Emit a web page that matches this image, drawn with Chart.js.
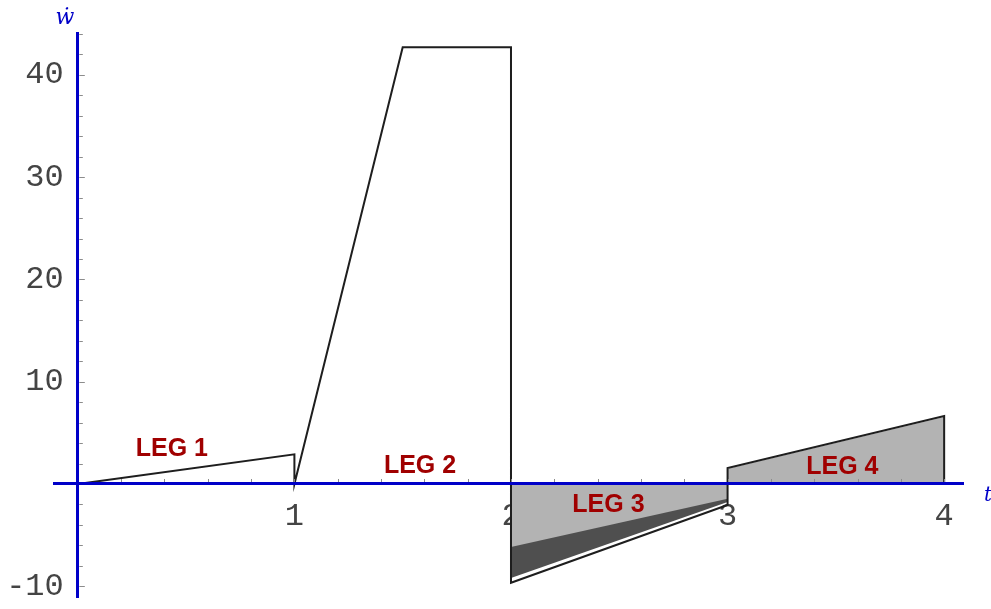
<!DOCTYPE html>
<html>
<head>
<meta charset="utf-8">
<title>ẇ(t) over four legs</title>
<script src="https://cdn.jsdelivr.net/npm/chart.js@4/dist/chart.umd.min.js"></script>
<style>
  html, body { margin: 0; padding: 0; background: #ffffff; }
  #wrap { position: relative; width: 991px; height: 609px; }
</style>
</head>
<body>
<div id="wrap"><canvas id="chart"></canvas></div>
<script>
// Rate curve ẇ(t): polyline through the breakpoints of the four legs
const curveT = [0, 1, 1, 1.5, 2, 2, 3, 3, 4, 4];
const curveW = [0, 2.9, 0, 42.7, 42.7, -9.66, -2.05, 1.57, 6.65, 0];

// Leg 3 shaded region (light part down to the inner edge, dark wedge above that edge)
const leg3T = [2, 3];
const leg3InnerW = [-9.2, -1.75];
const leg3DarkW = [-6.15, -1.45];

// Leg 4 shaded region
const leg4T = [3, 4];
const leg4W = [1.5, 6.55];

// Tick labels
const xTickLabels = [1, 2, 3, 4];
const yTickLabels = [-10, 10, 20, 30, 40];

// Leg names
const legNames = ['LEG 1', 'LEG 2', 'LEG 3', 'LEG 4'];

const pts = (xs, ys) => xs.map((x, i) => ({ x: x, y: ys[i] }));
const near = (a, b) => Math.abs(a - b) < 1e-6;

// Where each leg name sits, in (t, ẇ) units
const legPlacement = [
  { t: 0.434, w: 3.42 },
  { t: 1.58, w: 1.76 },
  { t: 2.45, w: -2.05 },
  { t: 3.53, w: 1.66 }
];

const BLUE = '#0000c8';
const MONO = '"Liberation Mono", "DejaVu Sans Mono", monospace';
const LABEL_GREY = '#444444';
const W_MIN = -11.05, W_MAX = 44.1;

// Axes cross at the origin, so scale boxes must not eat into the plot area
const noPadding = scale => {
  scale.paddingLeft = 0; scale.paddingRight = 0;
  scale.paddingTop = 0; scale.paddingBottom = 0;
};

// Short tick marks on the inner side of both axes
const axisMarks = {
  id: 'axisMarks',
  afterDatasetsDraw(chart) {
    const { ctx, scales: { x, y } } = chart;
    const x0 = x.getPixelForValue(0);
    const y0 = y.getPixelForValue(0);
    ctx.save();
    ctx.strokeStyle = '#8c8c8c';
    ctx.lineWidth = 1;
    ctx.beginPath();
    x.ticks.forEach(tk => {
      const v = tk.value;
      if (near(v, 0)) return;
      const px = Math.round(x.getPixelForValue(v)) + 0.5;
      ctx.moveTo(px, y0 - 1.5);
      ctx.lineTo(px, y0 - 5);
    });
    y.ticks.forEach(tk => {
      const v = tk.value;
      if (near(v, 0)) return;
      const py = Math.round(y.getPixelForValue(v)) + 0.5;
      const len = near(v % 10, 0) ? 7 : 5;
      ctx.moveTo(x0 + 1.5, py);
      ctx.lineTo(x0 + len, py);
    });
    ctx.stroke();
    ctx.restore();
  }
};

// Leg names and axis symbols
const textLayer = {
  id: 'textLayer',
  afterDatasetsDraw(chart) {
    const { ctx, scales: { x, y } } = chart;
    ctx.save();
    ctx.font = 'bold 25px "Liberation Sans", Arial, sans-serif';
    ctx.fillStyle = '#a00000';
    ctx.textAlign = 'center';
    ctx.textBaseline = 'middle';
    legNames.forEach((name, i) => {
      const p = legPlacement[i];
      ctx.fillText(name, x.getPixelForValue(p.t), y.getPixelForValue(p.w));
    });
    ctx.fillStyle = BLUE;
    ctx.font = 'italic 22px "DejaVu Serif", "Liberation Serif", serif';
    ctx.textAlign = 'center';
    ctx.textBaseline = 'alphabetic';
    ctx.fillText('ẇ', x.getPixelForValue(0) - 13, y.top - 9);
    ctx.textAlign = 'left';
    ctx.font = 'italic 20px "DejaVu Serif", "Liberation Serif", serif';
    ctx.fillText('t', x.right + 21, y.getPixelForValue(0) + 17);
    ctx.restore();
  }
};

new Chart(document.getElementById('chart'), {
  type: 'scatter',
  data: {
    datasets: [
      {
        label: 'ẇ',
        data: pts(curveT, curveW),
        showLine: true,
        borderColor: '#1e1e1e',
        borderWidth: 2,
        pointRadius: 0,
        tension: 0,
        fill: false
      },
      {
        label: 'leg 3 dark',
        data: pts(leg3T, leg3DarkW),
        showLine: true,
        borderWidth: 0,
        borderColor: 'rgba(0,0,0,0)',
        pointRadius: 0,
        backgroundColor: '#4f4f4f',
        fill: '+1'
      },
      {
        label: 'leg 3',
        data: pts(leg3T, leg3InnerW),
        showLine: true,
        borderColor: '#ffffff',
        borderWidth: 3,
        pointRadius: 0,
        backgroundColor: '#b3b3b3',
        fill: 'origin'
      },
      {
        label: 'leg 4',
        data: pts(leg4T, leg4W),
        showLine: true,
        borderWidth: 0,
        borderColor: 'rgba(0,0,0,0)',
        pointRadius: 0,
        backgroundColor: '#b3b3b3',
        fill: 'origin'
      }
    ]
  },
  options: {
    responsive: true,
    maintainAspectRatio: false,
    animation: false,
    events: [],
    layout: { padding: { left: 54, right: 28, top: 33, bottom: 12 } },
    plugins: {
      legend: { display: false },
      tooltip: { enabled: false },
      filler: { propagate: false }
    },
    scales: {
      x: {
        type: 'linear',
        min: -0.11,
        max: 4.087,
        position: { y: 0 },
        afterFit: noPadding,
        grid: { display: false, drawTicks: false },
        border: { display: true, color: BLUE, width: 3, z: 1 },
        ticks: {
          stepSize: 0.2,
          includeBounds: false,
          autoSkip: false,
          maxRotation: 0,
          padding: 13,
          color: LABEL_GREY,
          font: { family: MONO, size: 32 },
          callback: v => xTickLabels.some(l => near(l, v)) ? String(Math.round(v)) : ''
        }
      },
      // ẇ axis line with minor divisions every 2
      y: {
        type: 'linear',
        min: W_MIN,
        max: W_MAX,
        position: { x: 0 },
        afterFit: noPadding,
        grid: { display: false, drawTicks: false },
        border: { display: true, color: BLUE, width: 3, z: 1 },
        ticks: { display: false, stepSize: 2, includeBounds: false, autoSkip: false }
      },
      // ẇ tick labels, set a little to the left of the axis line
      yLabels: {
        type: 'linear',
        axis: 'y',
        min: W_MIN,
        max: W_MAX,
        position: { x: -0.065 },
        afterFit: noPadding,
        grid: { display: false, drawTicks: false },
        border: { display: false },
        ticks: {
          stepSize: 10,
          includeBounds: false,
          autoSkip: false,
          color: LABEL_GREY,
          font: { family: MONO, size: 32 },
          callback: v => yTickLabels.some(l => near(l, v)) ? String(Math.round(v)) : ''
        }
      }
    }
  },
  plugins: [axisMarks, textLayer]
});
</script>
</body>
</html>
